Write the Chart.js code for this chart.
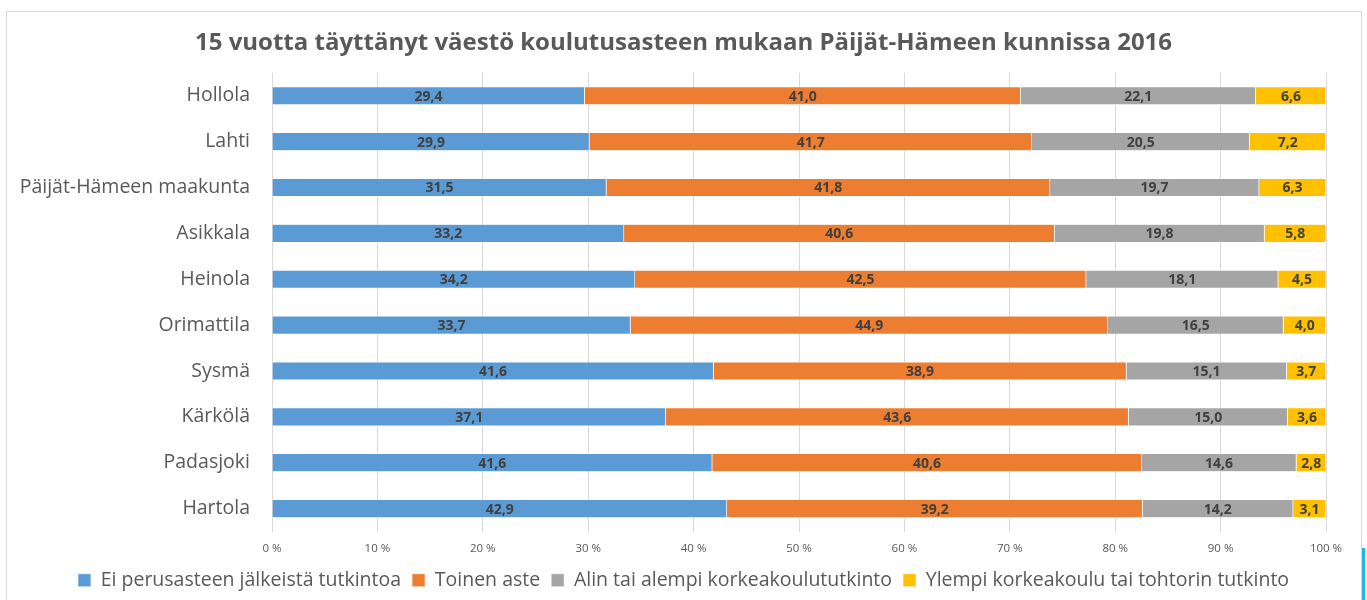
<!DOCTYPE html>
<html>
<head>
<meta charset="utf-8">
<script src="https://cdn.jsdelivr.net/npm/chart.js@4"></script>
<style>
  html, body { margin: 0; padding: 0; background: #fff; }
  body { width: 1367px; height: 600px; position: relative; overflow: hidden; }
  #frame { position: absolute; left: 6px; top: 11px; width: 1356px; height: 600px;
           border: 1px solid #d9d9d9; box-sizing: border-box; }
  #edge { position: absolute; left: 1362px; top: 548px; width: 3px; height: 52px; background: #1fb6e8; }
  #wrap { position: absolute; left: 0; top: 0; width: 1367px; height: 600px; }
</style>
</head>
<body>
<div id="frame"></div>
<div id="edge"></div>
<div id="wrap"><canvas id="chart"></canvas></div>
<script>
/* ====== Data ====== */
const kunnat = ["Hollola", "Lahti", "Päijät-Hämeen maakunta", "Asikkala", "Heinola",
  "Orimattila", "Sysmä", "Kärkölä", "Padasjoki", "Hartola"];

const eiTutkintoa = [29.4, 29.9, 31.5, 33.2, 34.2, 33.7, 41.6, 37.1, 41.6, 42.9];
const toinenAste  = [41.0, 41.7, 41.8, 40.6, 42.5, 44.9, 38.9, 43.6, 40.6, 39.2];
const alinAlempi  = [22.1, 20.5, 19.7, 19.8, 18.1, 16.5, 15.1, 15.0, 14.6, 14.2];
const ylempi      = [6.6, 7.2, 6.3, 5.8, 4.5, 4.0, 3.7, 3.6, 2.8, 3.1];

const xTicks = [0, 10, 20, 30, 40, 50, 60, 70, 80, 90, 100];

const series = [
  { label: "Ei perusasteen jälkeistä tutkintoa", values: eiTutkintoa, color: "#5b9bd5" },
  { label: "Toinen aste", values: toinenAste, color: "#ed7d31" },
  { label: "Alin tai alempi korkeakoulututkinto", values: alinAlempi, color: "#a5a5a5" },
  { label: "Ylempi korkeakoulu tai tohtorin tutkinto", values: ylempi, color: "#ffc000" },
];

/* ====== Helpers ====== */
// 100 % pinottu: jokainen rivi skaalataan summaansa
const rowSums = kunnat.map((_, i) => series.reduce((s, d) => s + d.values[i], 0));
const fmt = (v) => v.toFixed(1).replace(".", ",");

const FONT = "'Open Sans', 'Noto Sans', sans-serif";

const valueLabels = {
  id: "valueLabels",
  afterDatasetsDraw(chart) {
    const { ctx } = chart;
    ctx.save();
    ctx.font = "bold 14px " + FONT;
    ctx.fillStyle = "#404040";
    ctx.textAlign = "center";
    ctx.textBaseline = "middle";
    chart.data.datasets.forEach((ds, di) => {
      chart.getDatasetMeta(di).data.forEach((el, i) => {
        const p = el.getCenterPoint();
        ctx.fillText(fmt(ds.raw[i]), p.x, p.y + 1);
      });
    });
    ctx.restore();
  },
};

/* ====== Chart ====== */
new Chart(document.getElementById("chart"), {
  type: "bar",
  data: {
    labels: kunnat,
    datasets: series.map((s) => ({
      label: s.label,
      raw: s.values,
      data: s.values.map((v, i) => (v / rowSums[i]) * 100),
      backgroundColor: s.color,
      borderColor: "#ffffff",
      borderWidth: 0.6,
      categoryPercentage: 1,
      barPercentage: 0.4,
    })),
  },
  options: {
    indexAxis: "y",
    responsive: true,
    maintainAspectRatio: false,
    animation: false,
    layout: { padding: 0 },
    plugins: {
      title: {
        display: true,
        text: "15 vuotta täyttänyt väestö koulutusasteen mukaan Päijät-Hämeen kunnissa 2016",
        color: "#595959",
        font: { family: FONT, size: 24, weight: "bold", lineHeight: 1.2 },
        padding: { top: 29, bottom: 15 },
      },
      legend: {
        position: "bottom",
        labels: {
          color: "#595959",
          font: { family: FONT, size: 19.5 },
          boxWidth: 13,
          boxHeight: 13,
          padding: 11,
        },
      },
      tooltip: { enabled: false },
    },
    scales: {
      x: {
        stacked: true,
        min: 0,
        max: 100,
        afterBuildTicks: (scale) => { scale.ticks = xTicks.map((v) => ({ value: v })); },
        afterFit: (scale) => { scale.height = 28; },
        ticks: {
          color: "#595959",
          font: { family: FONT, size: 11.5 },
          padding: 10,
          callback: (v) => v + " %",
        },
        grid: { color: "#d9d9d9", drawTicks: false },
        border: { display: false },
      },
      y: {
        stacked: true,
        afterFit: (scale) => { scale.width = 272; },
        ticks: {
          color: "#595959",
          font: { family: FONT, size: 19.5 },
          padding: 14,
        },
        grid: { display: false },
        border: { display: false },
      },
      // tyhjä oikea akseli, jotta otsikko ja selite pysyvät keskellä
      yRight: {
        type: "category",
        position: "right",
        afterFit: (scale) => { scale.width = 41; },
        ticks: { display: false },
        grid: { display: false },
        border: { display: false },
      },
    },
  },
  plugins: [valueLabels],
});
</script>
</body>
</html>
